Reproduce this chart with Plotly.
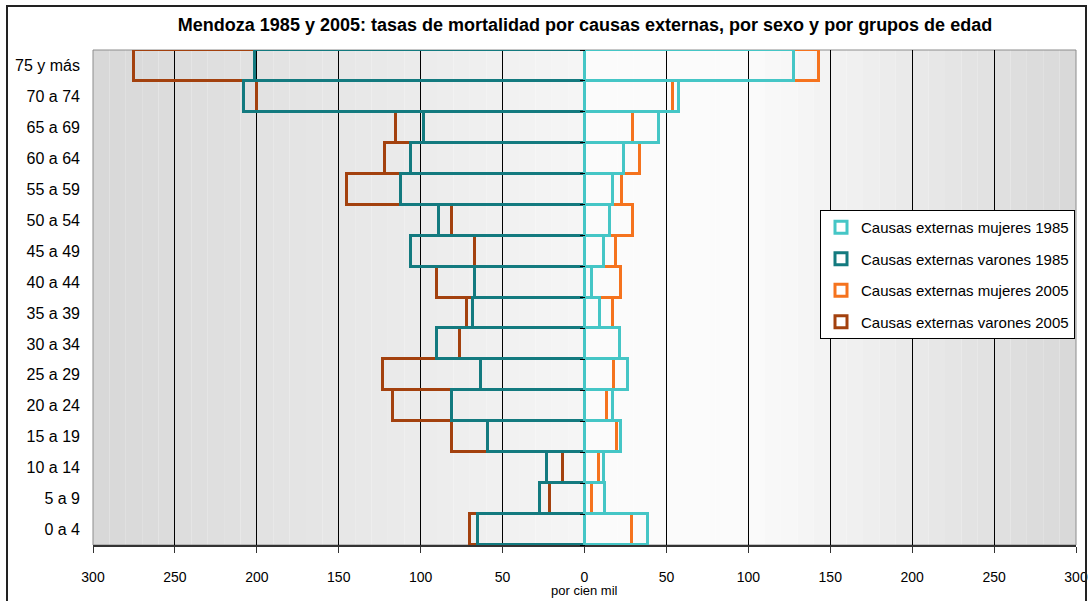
import plotly.graph_objects as go

grupos = ["0 a 4", "5 a 9", "10 a 14", "15 a 19", "20 a 24", "25 a 29", "30 a 34", "35 a 39",
          "40 a 44", "45 a 49", "50 a 54", "55 a 59", "60 a 64", "65 a 69", "70 a 74", "75 y más"]

mujeres_1985 = [39, 12.8, 11.8, 22, 17.3, 26.3, 21.8, 9.2, 4.4, 11.8, 15.3, 17.3, 24.4, 45.5, 57.4, 127.7]
varones_1985 = [65, 27, 22.6, 59, 80.6, 63, 90, 68, 67, 106, 88.6, 112, 106, 98, 208, 201]
mujeres_2005 = [28.7, 4.4, 8.6, 20, 14, 18.3, 21.5, 17.3, 22.4, 19.3, 29.3, 22.8, 33.6, 29.5, 54, 143]
varones_2005 = [70, 21, 13, 81, 117, 123, 76, 71.5, 90, 67, 80.6, 145, 122, 115, 200, 275]

ticks_x = [-300, -250, -200, -150, -100, -50, 0, 50, 100, 150, 200, 250, 300]

series = [
    # 2005 first so the 1985 outlines sit on top, as in the original
    ("Causas externas varones 2005", [-v for v in varones_2005], "#A3410E", 4),
    ("Causas externas mujeres 2005", mujeres_2005, "#F5731E", 3),
    ("Causas externas varones 1985", [-v for v in varones_1985], "#137A7F", 2),
    ("Causas externas mujeres 1985", mujeres_1985, "#45C6C6", 1),
]

fig = go.Figure()
for name, vals, color, rank in series:
    fig.add_trace(go.Bar(
        x=vals, y=grupos, orientation="h", name=name,
        marker=dict(color="rgba(0,0,0,0)", line=dict(color=color, width=3)),
        legendrank=rank, legendgroup=name,
    ))

# invisible trace to carry the tick marks on the zero line
fig.add_trace(go.Scatter(x=[0] * len(grupos), y=grupos, yaxis="y2", mode="markers",
                         marker=dict(opacity=0), showlegend=False, hoverinfo="skip"))

# background gradient (gray at the edges, whitish near the centre)
shapes = []
n = 60
for i in range(n):
    x0 = -300 + i * 600 / n
    x1 = x0 + 600 / n
    xm = (x0 + x1) / 2
    if xm < 0:
        g = 216 + (245 - 216) * (xm + 300) / 300
    elif xm < 100:
        g = 251
    else:
        g = 251 - (251 - 216) * (xm - 100) / 200
    g = int(round(g))
    shapes.append(dict(type="rect", xref="x", yref="paper", x0=x0, x1=x1, y0=0, y1=1,
                       fillcolor=f"rgb({g},{g},{g})", line=dict(width=0), layer="below"))
shapes.append(dict(type="rect", xref="paper", yref="paper", x0=0, x1=1, y0=0, y1=1,
                   line=dict(color="#8c8c8c", width=1), layer="below"))
# outer chart border
shapes.append(dict(type="rect", xref="paper", yref="paper",
                   x0=(7 - 93) / 983, x1=(1086 - 93) / 983,
                   y0=(545 - 640) / 495, y1=(545 - 6) / 495,
                   line=dict(color="#222222", width=2)))

fig.update_layout(
    width=1089, height=601,
    margin=dict(l=93, r=13, t=50, b=56),
    paper_bgcolor="white", plot_bgcolor="white",
    barmode="overlay", bargap=0,
    font=dict(family="Liberation Sans, Arial, sans-serif", color="black"),
    title=dict(text="<b>Mendoza 1985 y 2005: tasas de mortalidad por causas externas, por sexo y por grupos de edad</b>",
               x=585 / 1089, xref="container", xanchor="center", y=1 - 25 / 601, yanchor="middle",
               font=dict(size=18, color="black")),
    xaxis=dict(range=[-300, 300], tickvals=ticks_x, ticktext=[str(abs(t)) for t in ticks_x],
               showgrid=True, gridcolor="black", gridwidth=1,
               zeroline=True, zerolinecolor="black", zerolinewidth=1.5,
               showline=True, linecolor="#333333", linewidth=1.5,
               ticks="outside", ticklen=6, tickcolor="#333333",
               tickfont=dict(size=14), ticklabelstandoff=12, automargin=False, fixedrange=True),
    yaxis=dict(type="category", categoryarray=grupos, range=[-0.5, 15.5],
               showgrid=False, zeroline=False, showline=False, ticks="",
               tickfont=dict(size=16), ticklabelstandoff=12, automargin=False, fixedrange=True),
    yaxis2=dict(type="category", categoryarray=grupos, range=[-0.5, 15.5], overlaying="y",
                anchor="free", position=0.5, side="left", showgrid=False, showline=False,
                showticklabels=False, ticks="outside", ticklen=5, tickcolor="black",
                tickson="boundaries", automargin=False, fixedrange=True),
    legend=dict(x=(820 - 93) / 983, y=(545 - 210) / 495, xanchor="left", yanchor="top",
                bgcolor="white", bordercolor="black", borderwidth=1,
                font=dict(size=15), tracegroupgap=9, itemwidth=30),
    shapes=shapes,
    annotations=[dict(text="por cien mil", x=0, xref="x", y=(545 - 590) / 495, yref="paper",
                      showarrow=False, font=dict(size=13), xanchor="center", yanchor="middle")],
    showlegend=True,
)

fig.write_html("out.html", config={"displayModeBar": False},
               post_script="document.body.style.margin = '0';")
